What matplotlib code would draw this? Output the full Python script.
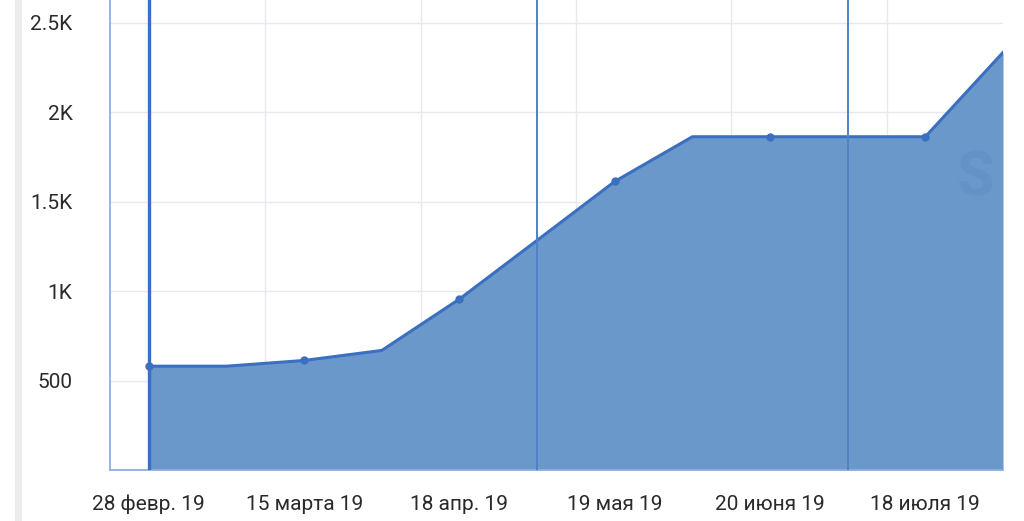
import matplotlib
matplotlib.use("Agg")
import matplotlib.pyplot as plt
from matplotlib.ticker import FixedLocator

# Data (categorical positions, every other point labelled)
tick_labels = ["28 февр. 19", "15 марта 19", "18 апр. 19", "19 мая 19", "20 июня 19", "18 июля 19"]
values = [580, 580, 612, 668, 955, 1283, 1612, 1862, 1862, 1862, 1862, 2333]
marker_idx = [0, 2, 4, 6, 8, 10]
event_idx = [0, 5, 9]
y_ticks = [500, 1000, 1500, 2000, 2500]
y_tick_labels = ["500", "1K", "1.5K", "2K", "2.5K"]

plt.rcParams['font.family'] = ['Roboto', 'DejaVu Sans']

fig = plt.figure(figsize=(10.24, 5.21), dpi=100)
fig.patch.set_facecolor("white")
ax = fig.add_axes([110/1024, 51/521, 893/1024, 470/521])

x = list(range(len(values)))
fill_c = "#6b98cb"
line_c = "#3b6fc0"

ax.fill_between(x, values, 0, color=fill_c, zorder=2, linewidth=0)
ax.plot(x, values, color=line_c, lw=2.2, zorder=4)
ax.plot([x[i] for i in marker_idx], [values[i] for i in marker_idx], 'o',
        color=line_c, ms=5, zorder=5)

for k, i in enumerate(event_idx):
    ax.axvline(i, color=line_c if k == 0 else "#4f80c8", lw=2.4 if k == 0 else 1.4, zorder=6)

ax.set_xlim(-0.5, 11)
ax.set_ylim(0, 2626)

ax.yaxis.set_major_locator(FixedLocator(y_ticks))
ax.set_yticklabels(y_tick_labels)
ax.set_xticks(marker_idx)
ax.set_xticklabels(tick_labels)
ax.xaxis.set_minor_locator(FixedLocator([1.5, 3.5, 5.5, 7.5, 9.5]))

ax.grid(True, axis='y', which='major', color="#e6e9ef", lw=1, zorder=1)
ax.grid(True, axis='x', which='minor', color="#e6e9ef", lw=1, zorder=1)
ax.grid(False, axis='x', which='major')
ax.set_axisbelow(True)

ax.tick_params(axis='both', which='both', length=0)
ax.tick_params(axis='y', pad=27, labelsize=15, labelcolor="#2a2a2a")
ax.tick_params(axis='x', pad=18, labelsize=15, labelcolor="#2a2a2a")

for s in ["top", "right"]:
    ax.spines[s].set_visible(False)
for s in ["left", "bottom"]:
    ax.spines[s].set_color("#8fb0e0")
    ax.spines[s].set_linewidth(1.3)

# faint watermark
ax.text(0.99, 0.62, "S", transform=ax.transAxes, ha='right', va='center',
        fontsize=44, fontweight='bold', color="#5a88c0", alpha=0.4, zorder=3)

# left panel border
fig.add_artist(plt.Line2D([18/1024, 18/1024], [0, 1], color="#ececec", lw=5, transform=fig.transFigure))

fig.savefig("out.png", dpi=100)
